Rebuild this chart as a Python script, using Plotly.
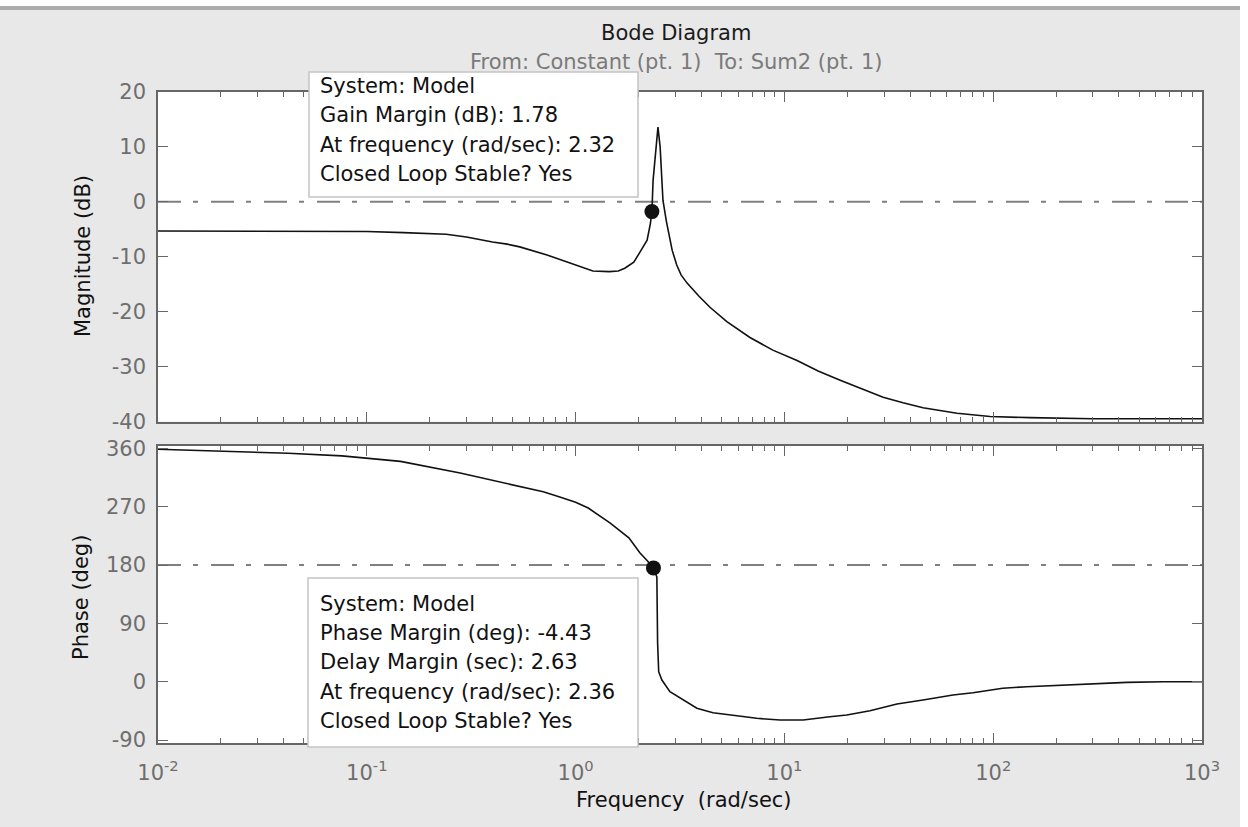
import plotly.graph_objects as go

# ---------------- data ----------------
freq_mag = [0.01, 0.03, 0.1, 0.15, 0.24, 0.30, 0.35, 0.40, 0.47, 0.54, 0.73, 0.95,
            1.21, 1.45, 1.60, 1.72, 1.90, 2.03, 2.20, 2.28, 2.32, 2.35, 2.43, 2.48,
            2.54, 2.59, 2.62, 2.72, 2.80, 2.90, 3.05, 3.20, 3.42, 3.90, 4.40, 5.30,
            6.84, 8.80, 11.5, 14.5, 18.5, 23.5, 29.7, 37.0, 46.1, 67.1, 96.6, 150,
            300, 1000]
mag_db = [-5.3, -5.35, -5.4, -5.6, -5.9, -6.4, -6.9, -7.3, -7.7, -8.2, -9.7, -11.2,
          -12.6, -12.7, -12.6, -12.1, -11.0, -9.2, -7.0, -4.0, -1.78, 3.9, 10.3, 13.6,
          10.0, 3.9, 0.3, -3.5, -6.0, -8.8, -11.5, -13.3, -14.8, -17.2, -19.2, -21.8,
          -24.7, -27.0, -28.9, -30.8, -32.5, -34.1, -35.6, -36.6, -37.5, -38.5, -39.1, -39.3,
          -39.5, -39.5]

freq_phase = [0.01, 0.0175, 0.042, 0.076, 0.145, 0.28, 0.42, 0.54, 0.70, 0.84, 1.0,
              1.15, 1.46, 1.8, 2.03, 2.2, 2.36, 2.45, 2.47, 2.50, 2.59, 2.83, 3.27,
              3.81, 4.55, 5.93, 7.37, 9.53, 12.3, 16.5, 19.9, 25.7, 34.6, 46.1, 64.2,
              80, 111, 145, 252, 437, 650, 1000]
phase_deg = [358.6, 356.5, 352.5, 348.5, 340, 322, 309, 301, 293, 285, 277,
             268, 245, 222, 199, 187, 175.57, 161.5, 60, 15.4, 2.5, -15.5, -28.3,
             -41, -47.9, -53, -56.5, -59.1, -59.1, -54, -51.4, -44.8, -34.5, -28.3, -20.6,
             -17, -10.2, -7.7, -4, -1, 0, 0]

gm_db = 1.78
gm_freq = 2.32
pm_deg = -4.43
dm_sec = 2.63
pm_freq = 2.36
mag_ref_db = 0
phase_ref_deg = 180
system_name = "Model"

x_tickvals = [0.01, 0.1, 1, 10, 100, 1000]
x_ticktext = ["10<sup>-2</sup>", "10<sup>-1</sup>", "10<sup>0</sup>",
              "10<sup>1</sup>", "10<sup>2</sup>", "10<sup>3</sup>"]
mag_ticks = [-40, -30, -20, -10, 0, 10, 20]
phase_ticks = [-90, 0, 90, 180, 270, 360]

# ---------------- layout geometry ----------------
W, H = 1248, 827
PL, PR, PT, PB = 158, 1202, 92, 743
PW, PH = PR - PL, PB - PT


def px(x):
    return (x - PL) / PW


def py(y):
    return (PB - y) / PH


FONT = "DejaVu Sans"
AX = "#666666"
TICKC = "#6e6e6e"
minor_vals = [k * 10 ** e for e in range(-2, 3) for k in range(2, 10)]

fig = go.Figure()

fig.add_trace(go.Scatter(x=freq_mag, y=mag_db, mode="lines",
                         line=dict(color="#111111", width=1.6),
                         xaxis="x", yaxis="y", showlegend=False, hoverinfo="skip"))
fig.add_trace(go.Scatter(x=freq_phase, y=phase_deg, mode="lines",
                         line=dict(color="#111111", width=1.6),
                         xaxis="x2", yaxis="y2", showlegend=False, hoverinfo="skip"))
fig.add_trace(go.Scatter(x=[gm_freq], y=[mag_ref_db - gm_db], mode="markers",
                         marker=dict(color="#111111", size=15),
                         xaxis="x", yaxis="y", showlegend=False, hoverinfo="skip"))
fig.add_trace(go.Scatter(x=[pm_freq], y=[phase_ref_deg + pm_deg], mode="markers",
                         marker=dict(color="#111111", size=15),
                         xaxis="x2", yaxis="y2", showlegend=False, hoverinfo="skip"))

dash = "23px,12px,5px,13px"
shapes = [
    dict(type="line", xref="x domain", yref="y", x0=0, x1=1, y0=mag_ref_db, y1=mag_ref_db,
         line=dict(color="#808080", width=2, dash=dash), layer="below"),
    dict(type="line", xref="x2 domain", yref="y2", x0=0, x1=1, y0=phase_ref_deg,
         y1=phase_ref_deg, line=dict(color="#808080", width=2, dash=dash), layer="below"),
    # window chrome
    dict(type="rect", xref="paper", yref="paper", x0=px(0), x1=px(W), y0=py(0), y1=py(6),
         fillcolor="white", line=dict(width=0), layer="above"),
    dict(type="rect", xref="paper", yref="paper", x0=px(0), x1=px(W), y0=py(6), y1=py(10),
         fillcolor="#ababab", line=dict(width=0), layer="above"),
    dict(type="rect", xref="paper", yref="paper", x0=px(1240), x1=px(W), y0=py(0), y1=py(H),
         fillcolor="white", line=dict(width=0), layer="above"),
    # data tip boxes
    dict(type="rect", xref="paper", yref="paper", x0=px(309), x1=px(638), y0=py(72), y1=py(197),
         fillcolor="white", line=dict(color="#c4c4c4", width=1.5), layer="above"),
    dict(type="rect", xref="paper", yref="paper", x0=px(308), x1=px(638), y0=py(578), y1=py(747),
         fillcolor="white", line=dict(color="#c4c4c4", width=1.5), layer="above"),
]

ann = []


def text(x, y, s, size=21, color="#111111", xanchor="left", angle=0):
    ann.append(dict(xref="paper", yref="paper", x=px(x), y=py(y), text=s, showarrow=False,
                    xanchor=xanchor, yanchor="middle", textangle=angle,
                    font=dict(family=FONT, size=size, color=color)))


text(676, 33, "Bode Diagram", xanchor="center", color="#1a1a1a")
text(676, 62, "From: Constant (pt. 1) \u00a0To: Sum2 (pt. 1)", xanchor="center", color="#7a7a7a")
text(83, 256, "Magnitude (dB)", xanchor="center", angle=-90)
text(81, 598, "Phase (deg)", xanchor="center", angle=-90)
text(684, 800, "Frequency \u00a0(rad/sec)", xanchor="center")

top_lines = [f"System: {system_name}",
             f"Gain Margin (dB): {gm_db:.2f}",
             f"At frequency (rad/sec): {gm_freq:.2f}",
             "Closed Loop Stable? Yes"]
for i, s in enumerate(top_lines):
    text(318, 86 + 29.3 * i, s)

bot_lines = [f"System: {system_name}",
             f"Phase Margin (deg): {pm_deg:.2f}",
             f"Delay Margin (sec): {dm_sec:.2f}",
             f"At frequency (rad/sec): {pm_freq:.2f}",
             "Closed Loop Stable? Yes"]
for i, s in enumerate(bot_lines):
    text(318, 604 + 29.2 * i, s)

xcommon = dict(type="log", range=[-2, 3], showgrid=False, zeroline=False,
               showline=True, linecolor=AX, linewidth=1.5, mirror="ticks",
               ticks="inside", ticklen=10, tickwidth=1.3, tickcolor=AX,
               tickvals=x_tickvals, ticktext=x_ticktext,
               minor=dict(ticks="inside", ticklen=5, tickwidth=1.3, tickcolor=AX,
                          tickvals=minor_vals, showgrid=False),
               tickfont=dict(family=FONT, size=21, color=TICKC))
ycommon = dict(showgrid=False, zeroline=False, showline=True, linecolor=AX, linewidth=1.5,
               mirror="ticks", ticks="inside", ticklen=10, tickwidth=1.3, tickcolor=AX,
               tickfont=dict(family=FONT, size=21, color=TICKC), ticklabelstandoff=6)

fig.update_layout(
    width=W, height=H,
    margin=dict(l=PL, r=W - PR, t=PT, b=H - PB, pad=0),
    paper_bgcolor="#e8e8e8", plot_bgcolor="white",
    xaxis=dict(xcommon, anchor="y", showticklabels=False),
    xaxis2=dict(xcommon, anchor="y2", matches="x", showticklabels=True, ticklabelstandoff=10),
    yaxis=dict(ycommon, domain=[py(421.5), 1], range=[-40, 20], tickvals=mag_ticks,
               ticktext=[str(v) for v in mag_ticks]),
    yaxis2=dict(ycommon, domain=[0, py(446)], range=[-94.6, 363.7], tickvals=phase_ticks,
                ticktext=[str(v) for v in phase_ticks]),
    shapes=shapes, annotations=ann, showlegend=False,
)

fig.write_html("out.html")
